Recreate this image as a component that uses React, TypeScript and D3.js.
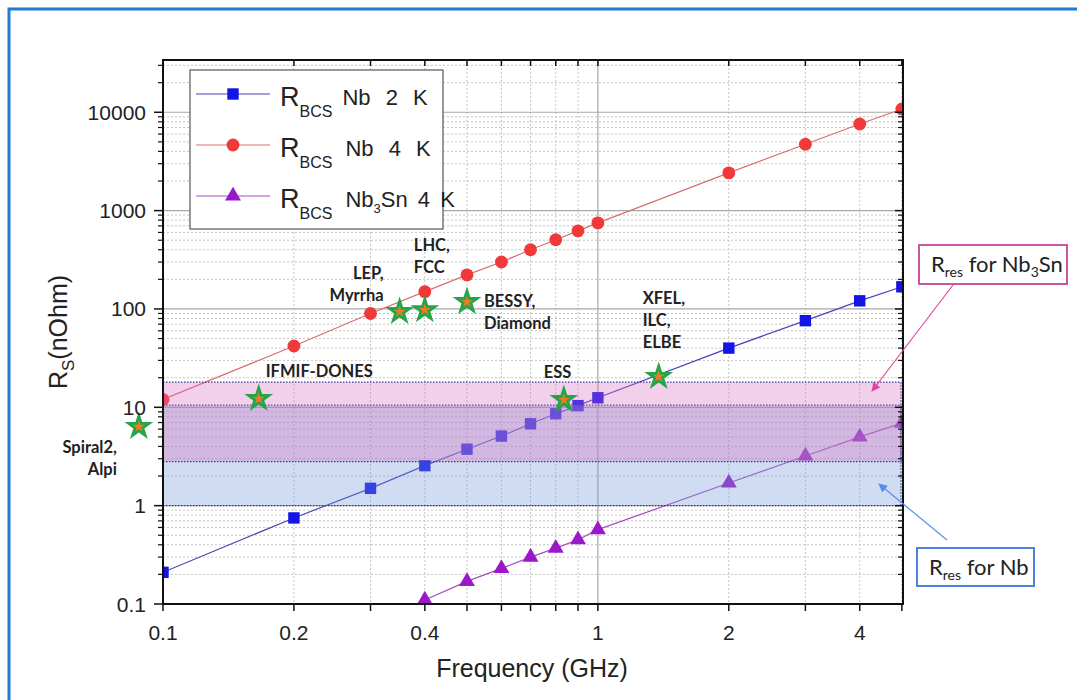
import { useRef, useEffect } from "react";
import * as d3 from "d3";

// frequency (GHz) and surface resistance (nOhm)
const freqs = [0.1, 0.2, 0.3, 0.4, 0.5, 0.6, 0.7, 0.8, 0.9, 1, 2, 3, 4, 5];
const nb2K = [0.21, 0.75, 1.5, 2.55, 3.75, 5.1, 6.8, 8.6, 10.4, 12.5, 40, 76, 121, 168];
const nb4K = [12, 42, 90, 150, 222, 300, 400, 505, 623, 750, 2420, 4730, 7600, 10800];
const nb3snFreqs = [0.4, 0.5, 0.6, 0.7, 0.8, 0.9, 1, 2, 3, 4, 5];
const nb3sn4K = [0.11, 0.17, 0.23, 0.3, 0.37, 0.45, 0.57, 1.7, 3.2, 5.0, 6.9];

const facilityNames = [
  ["Spiral2,", "Alpi"],
  ["IFMIF-DONES"],
  ["LEP,", "Myrrha"],
  ["LHC,", "FCC"],
  ["BESSY,", "Diamond"],
  ["ESS"],
  ["XFEL,", "ILC,", "ELBE"],
];
const facilityFreqs = [0.088, 0.166, 0.35, 0.4, 0.5, 0.835, 1.38];
const facilityRs = [6.5, 12.5, 96, 100, 121, 12.2, 21];
// label offset from the star: dx, dy of first baseline, anchor
const facilityLabelPos: [number, number, string][] = [
  [-22, 27, "end"],
  [7, -21, "start"],
  [-16, -32, "end"],
  [-11, -58, "start"],
  [17, 6, "start"],
  [-20, -21, "start"],
  [-16, -72, "start"],
];

const resNames = ["Nb", "Nb3Sn"];
const resLow = [1, 2.8];
const resHigh = [10.5, 18];

const xTickLabels = [0.1, 0.2, 0.4, 1, 2, 4];
const yTickLabels = [0.1, 1, 10, 100, 1000, 10000];

export default function App() {
  const svgRef = useRef<SVGSVGElement>(null);

  useEffect(() => {
    if (!svgRef.current) return;
    const svg = d3.select(svgRef.current);
    svg.selectAll("*").remove();

    const L = 163, R = 903, T = 60, B = 604;
    const x = d3.scaleLog().domain([0.1, 5.03]).range([L, R]);
    const y = d3.scaleLog().domain([0.1, 34000]).range([B, T]);
    const axisFont = "'Liberation Sans', Arial, sans-serif";
    const noteFont = "Lato, 'Open Sans', sans-serif";

    // outer frame
    svg.append("rect").attr("x", 9).attr("y", 9).attr("width", 1200).attr("height", 800)
      .attr("fill", "none").attr("stroke", "#1f7bd3").attr("stroke-width", 3);

    const defs = svg.append("defs");
    defs.append("clipPath").attr("id", "plotclip").append("rect")
      .attr("x", L).attr("y", T).attr("width", R - L).attr("height", B - T);
    const arrowHead = (id: string, color: string) => {
      defs.append("marker").attr("id", id).attr("viewBox", "0 0 10 10")
        .attr("refX", 9).attr("refY", 5).attr("markerWidth", 9).attr("markerHeight", 9)
        .attr("markerUnits", "userSpaceOnUse").attr("orient", "auto")
        .append("path").attr("d", "M0,0 L10,5 L0,10 z").attr("fill", color);
    };
    arrowHead("headPink", "#e0489e");
    arrowHead("headBlue", "#5b8ee6");

    // minor / major tick values
    const xMinor: number[] = [];
    [0.1, 1].forEach(d => { for (let k = 1; k <= 9; k++) { const v = +(d * k).toFixed(2); if (v <= 5.03) xMinor.push(v); } });
    const yMinor: number[] = [];
    const yMajor: number[] = [];
    [0.1, 1, 10, 100, 1000, 10000].forEach(d => {
      yMajor.push(d);
      for (let k = 2; k <= 9; k++) { const v = d * k; if (v <= 34000) yMinor.push(v); }
    });

    // grid
    const grid = svg.append("g");
    xMinor.filter(v => v !== 0.1 && v !== 1).forEach(v => {
      grid.append("line").attr("x1", x(v)).attr("x2", x(v)).attr("y1", T).attr("y2", B)
        .attr("stroke", "#c4c4c4").attr("stroke-width", 1).attr("stroke-dasharray", "2,2");
    });
    yMinor.forEach(v => {
      grid.append("line").attr("x1", L).attr("x2", R).attr("y1", y(v)).attr("y2", y(v))
        .attr("stroke", "#c4c4c4").attr("stroke-width", 1).attr("stroke-dasharray", "2,2");
    });
    grid.append("line").attr("x1", x(1)).attr("x2", x(1)).attr("y1", T).attr("y2", B)
      .attr("stroke", "#a8a8a8").attr("stroke-width", 1.2);
    yMajor.filter(v => v > 0.1).forEach(v => {
      grid.append("line").attr("x1", L).attr("x2", R).attr("y1", y(v)).attr("y2", y(v))
        .attr("stroke", "#a8a8a8").attr("stroke-width", 1.2);
    });

    // series
    const series = [
      { fx: freqs, vals: nb2K, line: "#4646b4", fill: "#1414e6", shape: d3.symbolSquare, size: 130, label: ["Nb 2 K"], ws: 9 },
      { fx: freqs, vals: nb4K, line: "#d87070", fill: "#f03a3a", shape: d3.symbolCircle, size: 130, label: ["Nb 4 K"], ws: 9 },
      { fx: nb3snFreqs, vals: nb3sn4K, line: "#a84cc0", fill: "#9a18c8", shape: d3.symbolTriangle, size: 110, label: ["Nb", "3", "Sn 4 K"], ws: 4 },
    ];
    const plot = svg.append("g").attr("clip-path", "url(#plotclip)");
    const line = d3.line<[number, number]>().x(d => x(d[0])).y(d => y(d[1]));
    series.forEach(s => {
      const pts = s.fx.map((f, i) => [f, s.vals[i]] as [number, number]);
      plot.append("path").attr("d", line(pts)).attr("fill", "none")
        .attr("stroke", s.line).attr("stroke-width", 1.2);
      plot.selectAll(null).data(pts).enter().append("path")
        .attr("d", d3.symbol().type(s.shape).size(s.size)())
        .attr("transform", d => `translate(${x(d[0])},${y(d[1])})`)
        .attr("fill", s.fill);
    });

    // residual resistance bands
    const bandFill = ["rgba(120,155,215,0.35)", "rgba(215,110,195,0.33)"];
    resNames.forEach((n, i) => {
      svg.append("rect").attr("x", L).attr("width", R - L - 2)
        .attr("y", y(resHigh[i])).attr("height", y(resLow[i]) - y(resHigh[i]))
        .attr("fill", bandFill[i]).attr("stroke", "#3a3a8c").attr("stroke-width", 1.2)
        .attr("stroke-dasharray", "1.5,1.5");
    });

    // facilities
    const fac = svg.append("g");
    facilityFreqs.forEach((f, i) => {
      const cx = x(f), cy = y(facilityRs[i]);
      fac.append("path").attr("d", d3.symbol().type(d3.symbolStar).size(260)())
        .attr("transform", `translate(${cx},${cy + 1})`).attr("fill", "#23a548");
      fac.append("path").attr("d", d3.symbol().type(d3.symbolStar).size(44)())
        .attr("transform", `translate(${cx},${cy + 1})`).attr("fill", "#f07a22");
      const [dx, dy, anchor] = facilityLabelPos[i];
      facilityNames[i].forEach((t, j) => {
        fac.append("text").attr("x", cx + dx).attr("y", cy + dy + j * 22)
          .attr("text-anchor", anchor).attr("font-family", noteFont).attr("font-weight", "bold")
          .attr("font-size", 16.5).attr("fill", "#222").text(t);
      });
    });

    // axes frame + ticks
    const ax = svg.append("g").attr("stroke", "#111");
    ax.append("rect").attr("x", L).attr("y", T).attr("width", R - L).attr("height", B - T)
      .attr("fill", "none").attr("stroke-width", 2);
    xMinor.forEach(v => {
      ax.append("line").attr("x1", x(v)).attr("x2", x(v)).attr("y1", B).attr("y2", B + 7).attr("stroke-width", 1.5);
      ax.append("line").attr("x1", x(v)).attr("x2", x(v)).attr("y1", T).attr("y2", T + 6).attr("stroke-width", 1.5);
    });
    yMajor.forEach(v => {
      ax.append("line").attr("x1", L - 9).attr("x2", L).attr("y1", y(v)).attr("y2", y(v)).attr("stroke-width", 1.5);
      ax.append("line").attr("x1", R).attr("x2", R - 8).attr("y1", y(v)).attr("y2", y(v)).attr("stroke-width", 1.5);
    });
    yMinor.forEach(v => {
      ax.append("line").attr("x1", L - 5).attr("x2", L).attr("y1", y(v)).attr("y2", y(v)).attr("stroke-width", 1.2);
      ax.append("line").attr("x1", R).attr("x2", R - 5).attr("y1", y(v)).attr("y2", y(v)).attr("stroke-width", 1.2);
    });
    xTickLabels.forEach(v => {
      svg.append("text").attr("x", x(v)).attr("y", 640).attr("text-anchor", "middle")
        .attr("font-family", axisFont).attr("font-size", 21).attr("fill", "#222").text(String(v));
    });
    yTickLabels.forEach(v => {
      svg.append("text").attr("x", 146).attr("y", y(v) + 7.5).attr("text-anchor", "end")
        .attr("font-family", axisFont).attr("font-size", 21).attr("fill", "#222").text(String(v));
    });

    svg.append("text").attr("x", 532).attr("y", 677).attr("text-anchor", "middle")
      .attr("font-family", axisFont).attr("font-size", 25).attr("fill", "#222").text("Frequency (GHz)");
    const yl = svg.append("text").attr("transform", "translate(67,332) rotate(-90)")
      .attr("text-anchor", "middle").attr("font-family", axisFont).attr("font-size", 25).attr("fill", "#222");
    yl.append("tspan").text("R");
    yl.append("tspan").attr("font-size", 17).attr("dy", 7).text("S");
    yl.append("tspan").attr("dy", -7).text("(nOhm)");

    // legend
    const lg = svg.append("g");
    lg.append("rect").attr("x", 190).attr("y", 70).attr("width", 253).attr("height", 159)
      .attr("fill", "#fff").attr("stroke", "#555").attr("stroke-width", 1.2);
    series.forEach((s, i) => {
      const ly = 94 + i * 51;
      lg.append("line").attr("x1", 196).attr("x2", 270).attr("y1", ly).attr("y2", ly)
        .attr("stroke", s.line).attr("stroke-width", 1.2);
      lg.append("path").attr("d", d3.symbol().type(s.shape).size(s.size)())
        .attr("transform", `translate(233,${ly})`).attr("fill", s.fill);
      const t = lg.append("text").attr("x", 280).attr("y", ly + 12)
        .attr("font-family", axisFont).attr("fill", "#222");
      t.append("tspan").attr("font-size", 27).text("R");
      t.append("tspan").attr("font-size", 16).attr("dy", 11).text("BCS");
      const rest = t.append("tspan").attr("font-size", 22).attr("dy", -12).attr("dx", i === 0 ? 10 : 13)
        .attr("word-spacing", s.ws);
      rest.text(s.label[0]);
      if (s.label.length > 1) {
        t.append("tspan").attr("font-size", 13).attr("dy", 6).text(s.label[1]);
        t.append("tspan").attr("font-size", 22).attr("dy", -6).attr("word-spacing", s.ws).text(s.label[2]);
      }
    });

    // R_res annotations
    const note = (bx: number, by: number, bw: number, bh: number, color: string, parts: [string, boolean][]) => {
      svg.append("rect").attr("x", bx).attr("y", by).attr("width", bw).attr("height", bh)
        .attr("fill", "#fff").attr("stroke", color).attr("stroke-width", 2);
      const t = svg.append("text").attr("x", bx + 12).attr("y", by + 27)
        .attr("font-family", noteFont).attr("font-size", 22).attr("fill", "#222");
      let sub = false;
      parts.forEach(([txt, isSub]) => {
        const dy = isSub && !sub ? 5 : !isSub && sub ? -5 : 0;
        t.append("tspan").attr("dy", dy).attr("font-size", isSub ? 14 : 22).text(txt);
        sub = isSub;
      });
    };
    note(919, 245, 148, 39, "#c9559f", [["R", false], ["res", true], ["\u00a0for Nb", false], ["3", true], ["Sn", false]]);
    note(917, 548, 117, 38, "#4f80e0", [["R", false], ["res", true], ["\u00a0for Nb", false]]);

    svg.append("line").attr("x1", 953).attr("y1", 285).attr("x2", 872).attr("y2", 391)
      .attr("stroke", "#e0489e").attr("stroke-width", 1.2).attr("marker-end", "url(#headPink)");
    svg.append("line").attr("x1", 947).attr("y1", 540).attr("x2", 879).attr("y2", 484)
      .attr("stroke", "#5b8ee6").attr("stroke-width", 1.2).attr("marker-end", "url(#headBlue)");
  }, []);

  return (
    <svg ref={svgRef} width={1077} height={700}
      style={{ position: "absolute", left: 0, top: 0, background: "#fff" }} />
  );
}
